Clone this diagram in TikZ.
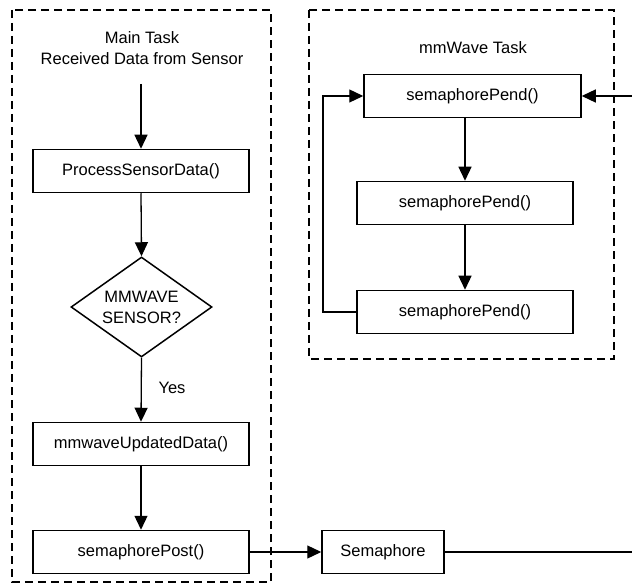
\documentclass[tikz,border=0pt]{standalone}
\usepackage{fontspec}
\setmainfont{Liberation Sans}
\usetikzlibrary{shapes.geometric,arrows.meta}
\begin{document}
\begin{tikzpicture}[x=1pt,y=-1pt,
  every node/.style={font=\fontsize{16.5pt}{21pt}\selectfont},
  procbox/.style={draw,line width=1.5pt,rectangle,inner sep=0pt,minimum height=43pt},
  taskframe/.style={draw,line width=1.5pt,dash pattern=on 8pt off 5pt},
  conn/.style={line width=1.3pt},
  arr/.style={conn,-{Triangle[length=14pt,width=13pt]}}]
\useasboundingbox (0,0) rectangle (632,585);
\clip (0,0) rectangle (632,585);
% frames
\draw[taskframe] (12,10) rectangle (271,582);
\draw[taskframe] (309,10) rectangle (614,359);
% left column
\node[align=center] (main) at (142,48) {Main Task\\Received Data from Sensor};
\coordinate (start) at (141,84);
\node[procbox,minimum width=216pt] (psd) at (141,171) {ProcessSensorData()};
\node[diamond,draw,line width=1.5pt,minimum width=141pt,minimum height=100pt,inner sep=0pt] (dm) at (141.5,307) {};
\node[align=center] (dmt) at (141.5,307) {MMWAVE\\SENSOR?};
\node[procbox,minimum width=216pt] (mud) at (141,444) {mmwaveUpdatedData()};
\node[procbox,minimum width=216pt] (sp) at (141,552) {semaphorePost()};
\node[anchor=west] (yes) at (155,388) {Yes};
\node[procbox,minimum width=122pt] (sem) at (383,552) {Semaphore};
% right column
\node (mmt) at (473,48) {mmWave Task};
\node[procbox,minimum width=217pt] (p1) at (472.5,96) {semaphorePend()};
\node[procbox,minimum width=216pt] (p2) at (465,203) {semaphorePend()};
\node[procbox,minimum width=216pt] (p3) at (465,312) {semaphorePend()};
\coordinate (loopB) at (323,312);
\coordinate (loopT) at (323,96);
\coordinate (offR) at (660,552);
\coordinate (offT) at (660,96);
% connectors
\draw[arr] (start) -- (psd.north);
\draw[arr] (psd.south) -- (dm.north);
\draw[arr] (dm.south) -- (mud.north);
\draw[arr] (mud.south) -- (sp.north);
\draw[arr] (sp.east) -- (sem.west);
\draw[arr] (sem.east) -- (offR) -- (offT) -- (p1.east);
\draw[arr] (p1.south -| p2.north) -- (p2.north);
\draw[arr] (p2.south) -- (p3.north);
\draw[arr] (p3.west) -- (loopB) -- (loopT) -- (p1.west);
\end{tikzpicture}
\end{document}
